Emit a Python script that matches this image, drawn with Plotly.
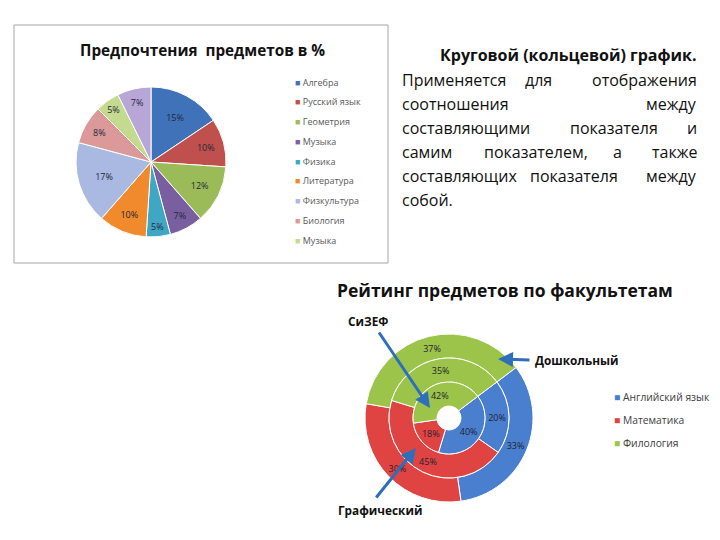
import plotly.graph_objects as go

# ---------------- data ----------------
pie_title = "Предпочтения  предметов в %"
pie_legend = ["Алгебра", "Русский язык", "Геометрия", "Музыка", "Физика",
              "Литература", "Физкультура", "Биология", "Музыка"]
pie_values = [15, 10, 12, 7, 5, 10, 17, 8, 5, 7]
pie_colors = ["#3F72B8", "#C0504D", "#9BBB59", "#7A5FA0", "#3FA6C4",
              "#F08A2C", "#A9B9E2", "#DC999A", "#C4DA8E", "#B8A6D6"]

donut_title = "Рейтинг предметов по факультетам"
subjects = ["Английский язык", "Математика", "Филология"]
donut_colors = ["#4A7FD0", "#E04442", "#9CC44A"]
rings = ["Дошкольный", "Графический", "СиЗЕФ"]          # outer -> inner
ring_values = {
    "Дошкольный": [33, 30, 37],
    "Графический": [20, 45, 35],
    "СиЗЕФ": [40, 18, 42],
}

text_title = "Круговой (кольцевой) график."
text_lines = [
    ["Применяется", "для", "отображения"],
    ["соотношения", "между"],
    ["составляющими", "показателя", "и"],
    ["самим", "показателем,", "а", "также"],
    ["составляющих", "показателя", "между"],
    ["собой."],
]

# ---------------- helpers ----------------
OFF = 8                      # page body margin
W, H = 720 - OFF, 540 - OFF  # figure size so that it fits the window


def px(x):
    return (x - OFF) / W


def py(y):
    return 1 - (y - OFF) / H


FONT = "Open Sans"
fig = go.Figure()
annotations = []
shapes = []

# ---------------- pie chart ----------------
pcx, pcy, pr = 151, 162, 75
fig.add_trace(go.Pie(
    values=pie_values,
    text=[f"{v}%" for v in pie_values],
    textinfo="text",
    textposition="inside",
    insidetextorientation="horizontal",
    textfont=dict(family=FONT, size=9, color="#22283A"),
    marker=dict(colors=pie_colors, line=dict(color="white", width=1)),
    sort=False, direction="clockwise", rotation=0,
    domain=dict(x=[px(pcx - pr), px(pcx + pr)], y=[py(pcy + pr), py(pcy - pr)]),
    showlegend=False, hoverinfo="text",
))

shapes.append(dict(type="rect", xref="paper", yref="paper",
                   x0=px(14), x1=px(388), y0=py(263), y1=py(25),
                   line=dict(color="#A6A6A6", width=1), fillcolor="rgba(0,0,0,0)"))

annotations.append(dict(text=f"<b>{pie_title}</b>", x=px(78), y=py(50),
                        xref="paper", yref="paper", xanchor="left", yanchor="middle",
                        showarrow=False, font=dict(family=FONT, size=15.3, color="#111")))

for i, name in enumerate(pie_legend):
    annotations.append(dict(
        text=f'<span style="color:{pie_colors[i]}">■</span> {name}',
        x=px(293), y=py(82 + i * 19.75), xref="paper", yref="paper",
        xanchor="left", yanchor="middle", showarrow=False,
        font=dict(family=FONT, size=9, color="#595959")))

# ---------------- donut chart ----------------
dcx, dcy = 449, 418
radii = [84, 60, 36, 12]
for k, ring in enumerate(rings):
    ro, ri = radii[k], radii[k + 1]
    vals = ring_values[ring]
    fig.add_trace(go.Pie(
        values=vals, labels=subjects,
        text=[f"{v}%" for v in vals], textinfo="text",
        textposition="inside", insidetextorientation="horizontal",
        textfont=dict(family=FONT, size=9, color="#1E2230"),
        marker=dict(colors=donut_colors, line=dict(color="white", width=1)),
        hole=ri / ro, sort=False, direction="clockwise", rotation=53,
        domain=dict(x=[px(dcx - ro), px(dcx + ro)], y=[py(dcy + ro), py(dcy - ro)]),
        showlegend=False, name=ring, hoverinfo="label+text+name",
    ))

annotations.append(dict(text=f"<b>{donut_title}</b>", x=px(335), y=py(290),
                        xref="paper", yref="paper", xanchor="left", yanchor="middle",
                        showarrow=False, font=dict(family=FONT, size=17.5, color="#111")))

for i, name in enumerate(subjects):
    annotations.append(dict(
        text=f'<span style="color:{donut_colors[i]}">■</span> {name}',
        x=px(612), y=py(397 + i * 23), xref="paper", yref="paper",
        xanchor="left", yanchor="middle", showarrow=False,
        font=dict(family=FONT, size=10.3, color="#404040")))

# arrow labels
ARROW = "#2F6EBA"
label_pos = {"СиЗЕФ": (346, 321), "Дошкольный": (533, 360), "Графический": (336, 510)}
arrows = {"СиЗЕФ": ((378, 331), (430, 408)),
          "Дошкольный": ((531, 360), (498, 359)),
          "Графический": ((375, 499), (416, 448))}
for ring in rings:
    lx, ly = label_pos[ring]
    annotations.append(dict(text=f"<b>{ring}</b>", x=px(lx), y=py(ly),
                            xref="paper", yref="paper", xanchor="left", yanchor="middle",
                            showarrow=False, font=dict(family=FONT, size=11.8, color="#111")))
    (tx, ty), (hx, hy) = arrows[ring]
    annotations.append(dict(text="", x=px(hx), y=py(hy), xref="paper", yref="paper",
                            ax=tx - hx, ay=ty - hy, axref="pixel", ayref="pixel",
                            showarrow=True, arrowhead=2, arrowsize=1, arrowwidth=3,
                            arrowcolor=ARROW, standoff=0))

# ---------------- right text block ----------------
annotations.append(dict(text=f"<b>{text_title}</b>", x=px(699), y=py(55),
                        xref="paper", yref="paper", xanchor="right", yanchor="middle",
                        showarrow=False, font=dict(family=FONT, size=16, color="#111")))
word_x = [
    [(400, "left"), (538, "center"), (699, "right")],
    [(400, "left"), (699, "right")],
    [(400, "left"), (614, "center"), (699, "right")],
    [(400, "left"), (536, "center"), (617, "center"), (699, "right")],
    [(400, "left"), (574, "center"), (699, "right")],
    [(400, "left")],
]
line_y = [80, 104, 128, 152, 176, 200]
for words, pos, yy in zip(text_lines, word_x, line_y):
    for w, (xx, anc) in zip(words, pos):
        annotations.append(dict(text=w, x=px(xx), y=py(yy), xref="paper", yref="paper",
                                xanchor=anc, yanchor="middle", showarrow=False,
                                font=dict(family=FONT, size=16, color="#111")))

fig.update_layout(
    width=W, height=H, margin=dict(l=0, r=0, t=0, b=0),
    paper_bgcolor="white", plot_bgcolor="white",
    annotations=annotations, shapes=shapes, showlegend=False,
)
fig.write_html("out.html")
